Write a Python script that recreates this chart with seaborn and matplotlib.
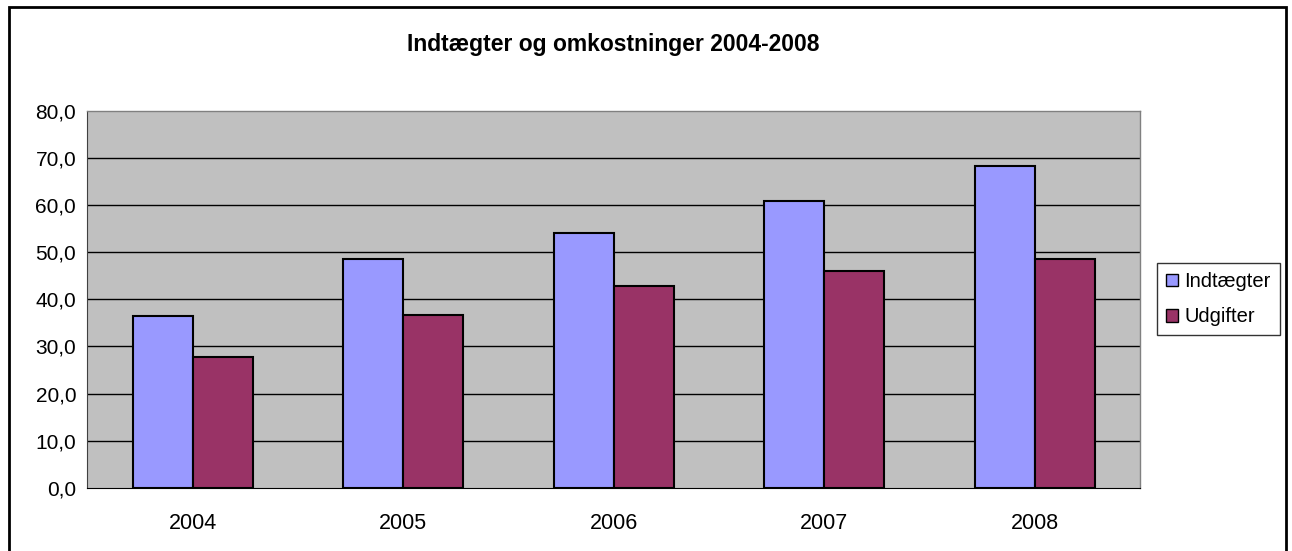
import pandas as pd
import numpy as np
import matplotlib
matplotlib.use("Agg")
import matplotlib.pyplot as plt
import seaborn as sns
from matplotlib.patches import Patch, Rectangle
from matplotlib.ticker import FuncFormatter, FixedLocator

years = ["2004", "2005", "2006", "2007", "2008"]
indtaegter = [36.5, 48.6, 54.2, 60.9, 68.3]
udgifter = [27.8, 36.6, 42.9, 46.1, 48.6]
series = ["Indtægter", "Udgifter"]
colors = ["#9999FF", "#993366"]

df = pd.DataFrame({
    "year": years * 2,
    "value": indtaegter + udgifter,
    "serie": [series[0]] * len(years) + [series[1]] * len(years),
})

sns.set_style("white")
plt.rcParams["font.family"] = ["Liberation Sans", "DejaVu Sans"]
plt.rcParams["text.color"] = "black"
plt.rcParams["xtick.color"] = "black"
plt.rcParams["ytick.color"] = "black"

fig = plt.figure(figsize=(12.92, 5.51), dpi=100)
ax = fig.add_axes([0.0676, 0.1149, 0.8148, 0.6836])
ax.set_facecolor("#C0C0C0")

sns.barplot(data=df, x="year", y="value", hue="serie", palette=colors,
            edgecolor="black", linewidth=1.5, width=0.57, gap=0,
            saturation=1, ax=ax, legend=False, zorder=3)

ax.set_ylim(0, 80)
ax.set_xlim(-0.5, len(years) - 0.5)
ax.set_yticks(np.arange(0, 81, 10))
ax.yaxis.set_major_formatter(FuncFormatter(lambda v, p: f"{v:.1f}".replace(".", ",")))
ax.tick_params(axis="y", direction="out", length=6, width=1, color="black",
               labelcolor="black", labelsize=15, pad=2)
ax.tick_params(axis="x", which="major", length=0, labelsize=15.5, labelcolor="black", pad=18)
ax.xaxis.set_minor_locator(FixedLocator(np.arange(-0.5, len(years), 1.0)))
ax.tick_params(axis="x", which="minor", direction="out", length=6, width=1, color="black")
for g in np.arange(10, 80, 10):
    ax.axhline(g, color="black", lw=1, zorder=1)
ax.set_xlabel("")
ax.set_ylabel("")

for s in ["top", "right"]:
    ax.spines[s].set_color("#808080")
    ax.spines[s].set_linewidth(1)
ax.spines["left"].set_color("#404040")
ax.spines["bottom"].set_color("black")
for s in ax.spines.values():
    s.set_visible(True)

fig.text(0.4745, 0.919, "Indtægter og omkostninger 2004-2008", ha="center", va="center",
         fontsize=16.5, fontweight="bold", color="black")

handles = [Patch(facecolor=c, edgecolor="black", lw=1) for c in colors]
fig.legend(handles, series, loc="center left", bbox_to_anchor=(0.8955, 0.457),
           frameon=True, fancybox=False, edgecolor="black", fontsize=14.5,
           handlelength=0.6, handleheight=0.6, handletextpad=0.3,
           borderpad=0.45, borderaxespad=0, labelspacing=0.8)
fig.legends[0].get_frame().set_linewidth(1)

fig.patches.append(Rectangle((9 / 1292, -0.1), 1277 / 1292, 1.1 - 7 / 551,
                             transform=fig.transFigure, fill=False,
                             edgecolor="black", lw=2))

fig.savefig("out.png", dpi=100)
